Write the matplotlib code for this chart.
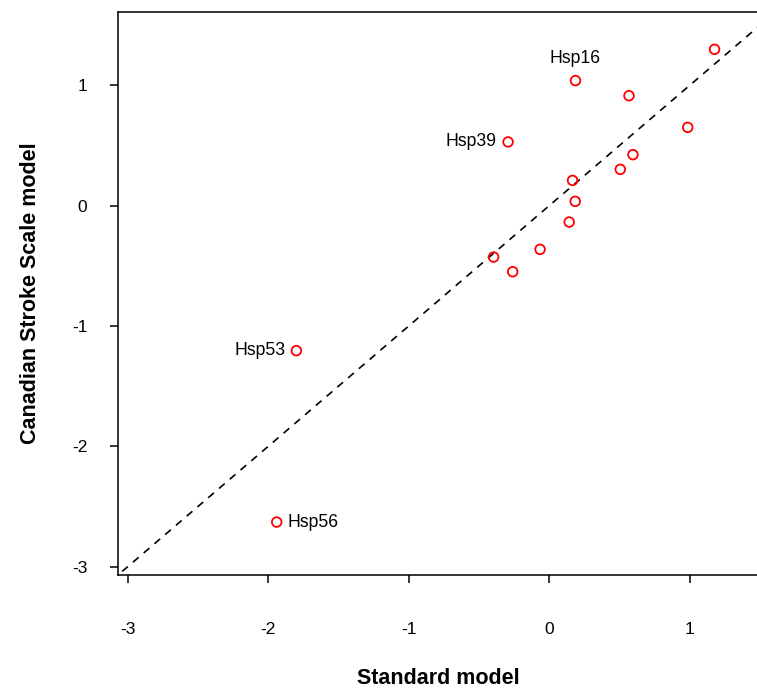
import numpy as np
import matplotlib.pyplot as plt

plt.rcParams['font.family'] = ['Liberation Sans', 'DejaVu Sans']
plt.rcParams['axes.unicode_minus'] = False

# standard model vs Canadian Stroke Scale model estimates
std = [-0.293, 0.986, 0.596, 0.506, 0.166, 0.185, 0.142, -0.065, -0.396, -0.26,
       0.187, 0.568, 1.177, -1.80, -1.94]
css = [0.53, 0.651, 0.424, 0.302, 0.21, 0.036, -0.136, -0.363, -0.427, -0.549,
       1.04, 0.914, 1.30, -1.205, -2.63]
names = ["Hsp39", "", "", "", "", "", "", "", "", "",
         "Hsp16", "", "", "Hsp53", "Hsp56"]

fig = plt.figure(figsize=(7.57, 6.89), dpi=100)
ax = fig.add_axes([118 / 757, 1 - 575 / 689, 1 - 118 / 757 + 0.002, (575 - 12) / 689])

ref = np.array([-3.5, 2.0])
ax.plot(ref, ref, color="black", linestyle=(0, (4.5, 4)), linewidth=1.2)
ax.scatter(std, css, s=48, facecolors="none", edgecolors="red", linewidths=1.3, zorder=3)

offsets = {"Hsp39": (-8, 0, "right", "center"),
           "Hsp16": (0, 10, "center", "bottom"),
           "Hsp53": (-8, 0, "right", "center"),
           "Hsp56": (8, 0, "left", "center")}
for x, y, lab in zip(std, css, names):
    if not lab:
        continue
    dx, dy, ha, va = offsets[lab]
    ax.annotate(lab, (x, y), xytext=(dx, dy), textcoords="offset points",
                ha=ha, va=va, fontsize=12.7)

ax.set_xlim(-3.07, 1.49)
ax.set_ylim(-3.07, 1.61)
ax.set_xticks([-3, -2, -1, 0, 1])
ax.set_yticks([-3, -2, -1, 0, 1])
ax.tick_params(direction="out", length=6, width=1.1, labelsize=12.5, color="black")
ax.tick_params(axis="x", pad=28)
ax.tick_params(axis="y", pad=16)
for s in ax.spines.values():
    s.set_linewidth(1.1)
ax.spines["right"].set_visible(False)

ax.set_xlabel("Standard model", fontsize=15.5, fontweight="bold", labelpad=22)
ax.set_ylabel("Canadian Stroke Scale model", fontsize=15.5, fontweight="bold", labelpad=22)

fig.savefig("out.png", dpi=100)
